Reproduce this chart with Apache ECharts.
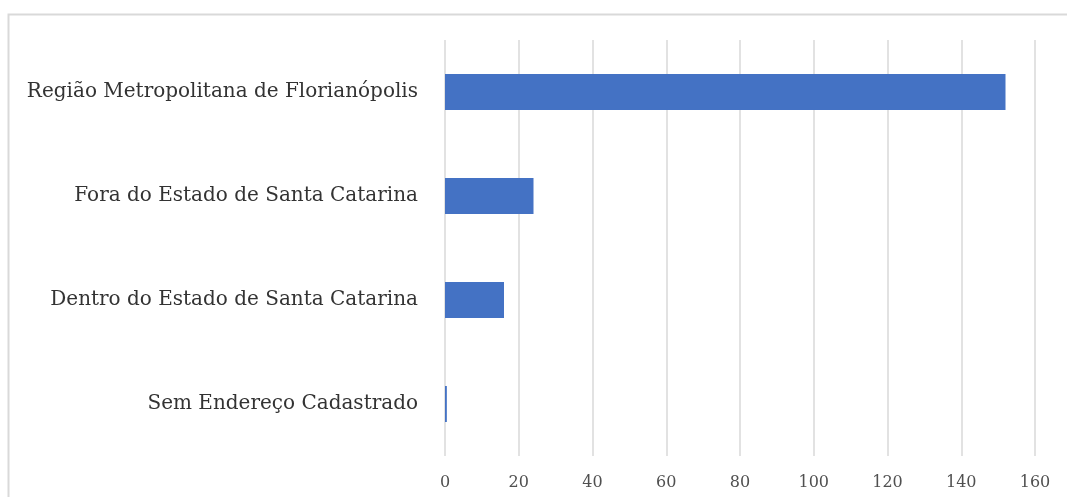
<!DOCTYPE html>
<html>
<head>
<meta charset="utf-8">
<script src="https://cdn.jsdelivr.net/npm/echarts@6/dist/echarts.min.js"></script>
<style>
html,body{margin:0;padding:0;background:#fff;}
#c{width:1067px;height:497px;}
</style>
</head>
<body>
<div id="c"></div>
<script>
const categories = [
  "Região Metropolitana de Florianópolis",
  "Fora do Estado de Santa Catarina",
  "Dentro do Estado de Santa Catarina",
  "Sem Endereço Cadastrado"
];
const values = [152, 24, 16, 0.5];
const xMin = 0, xMax = 160, xStep = 20;

const chart = echarts.init(document.getElementById('c'), null, {renderer: 'canvas'});
chart.setOption({
  animation: false,
  backgroundColor: '#ffffff',
  graphic: [{
    type: 'rect',
    shape: {x: 8.5, y: 14.5, width: 1200, height: 600},
    style: {fill: 'none', stroke: '#d9d9d9', lineWidth: 2},
    silent: true
  }],
  grid: {left: 445, right: 32, top: 40, height: 416, containLabel: false},
  xAxis: {
    type: 'value', min: xMin, max: xMax, interval: xStep,
    axisLine: {show: false}, axisTick: {show: false},
    splitLine: {show: true, lineStyle: {color: '#d9d9d9', width: 1.5}},
    axisLabel: {color: '#505050', fontFamily: 'DejaVu Serif', fontSize: 16, margin: 19}
  },
  yAxis: {
    type: 'category', data: categories, inverse: true,
    axisLine: {show: false}, axisTick: {show: false},
    axisLabel: {color: '#333333', fontFamily: 'DejaVu Serif', fontSize: 20, margin: 27}
  },
  series: [{
    type: 'bar', data: values, barWidth: 36,
    itemStyle: {color: '#4472c4'}
  }]
});
</script>
</body>
</html>
